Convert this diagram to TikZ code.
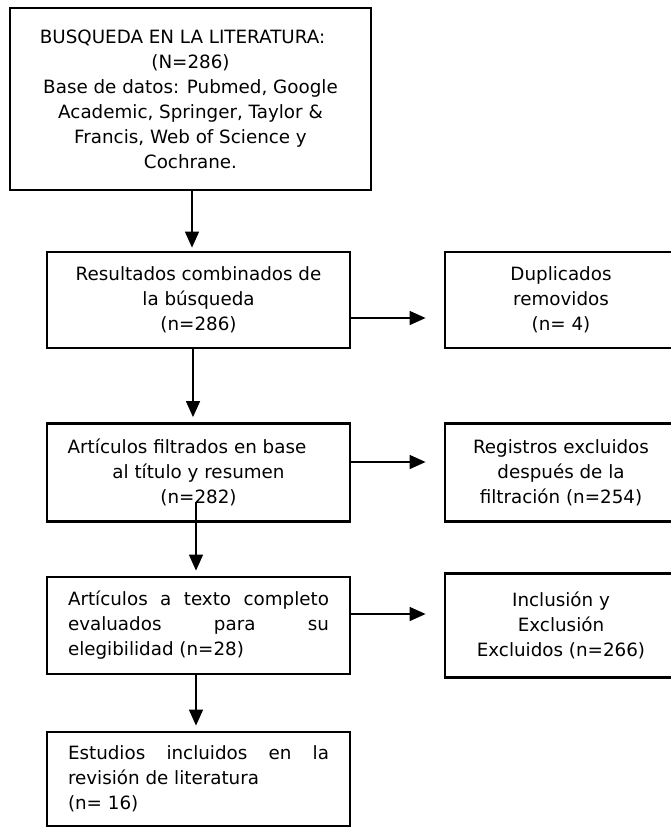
\documentclass[tikz,border=0pt]{standalone}
\usepackage{fontspec}
\setmainfont{DejaVu Sans}
\usepackage{tikz}
\usetikzlibrary{arrows.meta}

\begin{document}
\begin{tikzpicture}[x=1pt,y=-1pt,
	font=\fontsize{18.3}{25}\selectfont,
	box/.style={draw, line width=2.8pt, inner sep=0pt, align=center},
	jbox/.style={box, text width=261pt, align=justify},
	arr/.style={line width=1.5pt, -{Triangle[length=16pt,width=14pt]}, shorten >=5pt}
	]
	\useasboundingbox (0,0) rectangle (671,829);
	%
	\node[box, minimum width=361pt, minimum height=182pt] (Bus) at (190.5,99)
		{BUSQUEDA EN LA LITERATURA:\hspace*{16pt}\\ (N=286)\\ Base de datos: Pubmed, Google\\ Academic, Springer, Taylor \&\\ Francis, Web of Science y\\ Cochrane.};
	\node[box, minimum width=303pt, minimum height=96pt] (Res) at (198.5,300)
		{Resultados combinados de\\ la búsqueda\\ (n=286)};
	\node[box, minimum width=303pt, minimum height=98pt] (Fil) at (198.5,472.5)
		{Artículos filtrados en base\hspace*{23pt}\\ al título y resumen\\ (n=282)};
	\node[jbox, minimum width=303pt, minimum height=97pt] (Tex) at (198.5,625.5)
		{Artículos a texto completo\linebreak evaluados para su\linebreak elegibilidad (n=28)};
	\node[jbox, minimum width=303pt, minimum height=94pt] (Est) at (198.5,779)
		{Estudios incluidos en la\linebreak revisión de literatura\\ (n= 16)};
	%
	\node[box, minimum width=232pt, minimum height=96pt] (Dup) at (561,300)
		{Duplicados\\ removidos\\ (n= 4)};
	\node[box, minimum width=232pt, minimum height=98pt] (Reg) at (561,472.5)
		{Registros excluidos\\ después de la\\ filtración (n=254)};
	\node[box, minimum width=232pt, minimum height=104pt] (Inc) at (561,625.5)
		{Inclusión y\\ Exclusión\\ Excluidos (n=266)};
	%
	\coordinate (F0) at (196,502);
	\draw [arr, shorten >=3pt] ([xshift=1.5pt]Bus.south) -- ([xshift=-6.5pt]Res.north);
	\draw [arr] ([xshift=-5.5pt]Res.south) -- ([xshift=-5.5pt]Fil.north);
	\draw [arr] (F0) -- ([xshift=-2.5pt]Tex.north);
	\draw [arr] ([xshift=-2.5pt]Tex.south) -- ([xshift=-2.5pt]Est.north);
	%
	\draw [arr, shorten >=18pt] ([yshift=-18pt]Res.east) -- ([yshift=-18pt]Dup.west);
	\draw [arr, shorten >=18pt] ([yshift=10.5pt]Fil.east) -- ([yshift=10.5pt]Reg.west);
	\draw [arr, shorten >=18pt] ([yshift=11.5pt]Tex.east) -- ([yshift=11.5pt]Inc.west);
\end{tikzpicture}
\end{document}
